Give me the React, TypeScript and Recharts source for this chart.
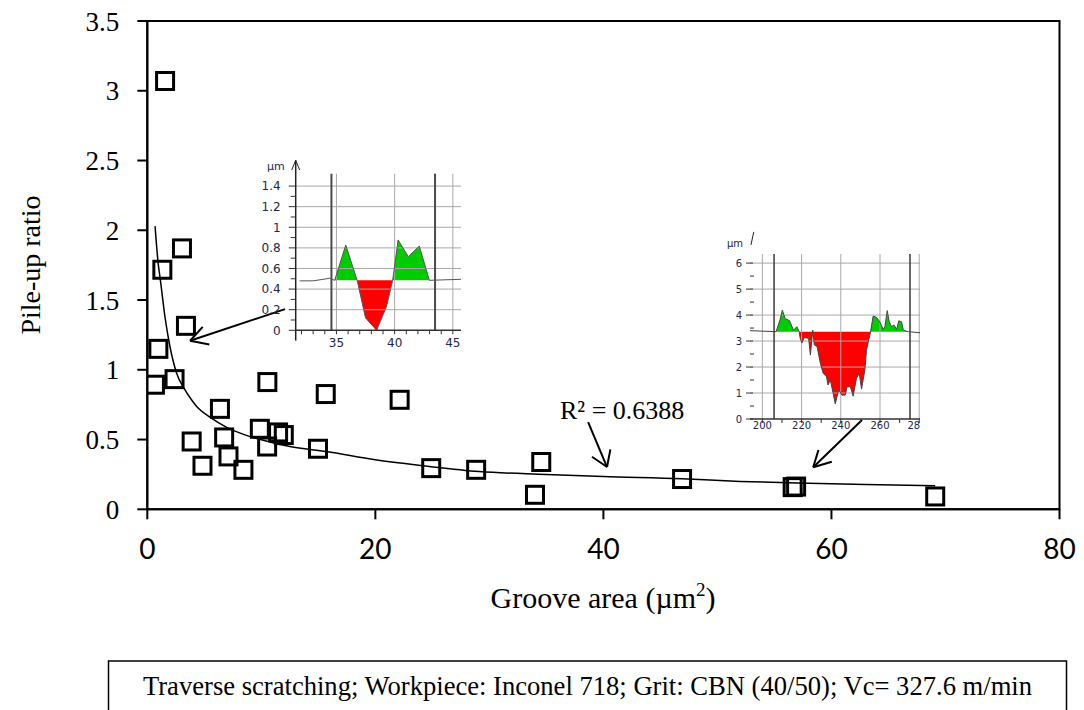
import React from 'react';
import { ComposedChart, Scatter, Line, Area, XAxis, YAxis, ReferenceLine, ReferenceArea } from 'recharts';

// ---------- main chart data ----------
const grooveArea = [1.56, 3.04, 1.32, 3.39, 0.97, 0.67, 2.39, 10.53, 15.65, 22.13, 6.37, 3.89, 6.74, 4.84, 7.12, 8.43, 9.87, 10.51, 11.47, 11.97, 14.97, 24.9, 28.84, 34.55, 34.0, 46.9, 56.6, 56.9, 69.1];
const pileUpRatio = [3.07, 1.87, 1.717, 1.315, 1.15, 0.893, 0.933, 0.912, 0.826, 0.785, 0.72, 0.486, 0.515, 0.312, 0.379, 0.283, 0.577, 0.45, 0.551, 0.532, 0.434, 0.295, 0.283, 0.339, 0.104, 0.217, 0.159, 0.163, 0.092];

const trendX = [0.68, 0.97, 1.11, 1.55, 1.99, 2.58, 3.2, 3.89, 4.33, 5.5, 7, 8.5, 10.16, 12.5, 15.7, 20, 24.75, 29.1, 35, 40, 46.9, 52, 57, 63, 69.1];
const trendY = [2.03, 1.75, 1.666, 1.38, 1.165, 0.974, 0.87, 0.783, 0.737, 0.66, 0.585, 0.535, 0.495, 0.45, 0.414, 0.355, 0.307, 0.271, 0.25, 0.235, 0.219, 0.2, 0.188, 0.178, 0.168];

const xTicks = [0, 20, 40, 60, 80];
const yTicks = [0, 0.5, 1, 1.5, 2, 2.5, 3, 3.5];

// arrows: [shaft start, tip, head arm 1, head arm 2] in data units
const arrows = [
  [[12.08, 1.435], [3.75, 1.208], [4.86, 1.308], [5.44, 1.182]],
  [[38.66, 0.625], [40.32, 0.303], [39.0, 0.377], [40.61, 0.43]],
  [[62.68, 0.64], [58.4, 0.301], [60.03, 0.341], [58.86, 0.425]],
];

const xTitle = 'Groove area (µm';
const yTitle = 'Pile-up ratio';
const r2Label = 'R² = 0.6388';
const boxText = 'Traverse scratching; Workpiece: Inconel 718; Grit: CBN (40/50); Vc= 327.6 m/min';

// ---------- inset 1 (small groove profile) ----------
const prof1X = [31.84, 33.0, 34.42, 34.85, 35.8, 36.78, 37.5, 38.45, 39.3, 39.83, 40.3, 41.17, 42.12, 42.98, 45.7];
const prof1Y = [0.48, 0.48, 0.505, 0.485, 0.828, 0.485, 0.12, 0.0, 0.23, 0.485, 0.877, 0.715, 0.818, 0.485, 0.495];
const prof1Base = 0.485;
const prof1Green = [[34.85, 36.78], [39.83, 42.98]];
const prof1Red = [[36.78, 39.83]];
const in1XTicks = [32, 33, 34, 35, 36, 37, 38, 39, 40, 41, 42, 43, 44, 45];
const in1XLabels: Record<number, string> = { 35: '35', 40: '40', 45: '45' };
const in1YTicks = [0, 0.1, 0.2, 0.3, 0.4, 0.5, 0.6, 0.7, 0.8, 0.9, 1, 1.1, 1.2, 1.3, 1.4];
const in1YLabels = [0, 0.2, 0.4, 0.6, 0.8, 1, 1.2, 1.4];
const in1GridY = [0.2, 0.4, 0.6, 0.8, 1, 1.2, 1.4];
const in1GridX = [35, 40, 45];
const in1Cursors = [34.57, 43.47];

// ---------- inset 2 (large groove profile) ----------
const prof2X = [193.7, 207.0, 209.0, 210.2, 211.6, 213.8, 215.9, 217.6, 218.8, 219.3, 220.2, 221.4, 223.6, 224.5, 225.7, 226.5, 227.9, 229.6, 231.0, 232.7, 233.5, 234.7, 236.1, 237.2, 238.9, 240.6, 242.3, 243.2, 244.9, 246.3, 248.0, 249.4, 250.6, 252.3, 253.1, 255.2, 256.5, 258.2, 259.9, 261.6, 262.5, 263.7, 264.7, 265.9, 267.1, 268.5, 269.6, 271.0, 271.9, 274.4, 280.4];
const prof2Y = [3.40, 3.36, 3.81, 4.19, 3.86, 3.79, 3.42, 3.55, 3.36, 3.10, 2.93, 3.14, 3.10, 2.46, 3.42, 2.85, 2.79, 2.14, 1.76, 1.63, 1.31, 1.50, 0.99, 0.58, 1.12, 0.92, 0.92, 1.24, 1.24, 0.88, 1.56, 1.76, 1.15, 1.90, 2.65, 3.36, 3.96, 3.91, 3.74, 3.45, 3.55, 4.17, 3.74, 3.55, 3.62, 3.45, 3.78, 3.74, 3.42, 3.36, 3.32];
const prof2Base = 3.36;
const prof2Green = [[207.0, 218.8], [255.2, 274.4]];
const prof2Red = [[218.8, 255.2]];
const in2XTicks = [200, 210, 220, 230, 240, 250, 260, 270, 280];
// the last label is cropped to "28" in the source picture
const in2XLabels: Record<number, string> = { 200: '200', 220: '220', 240: '240', 260: '260', 280: '28' };
const in2YTicks = [0, 0.5, 1, 1.5, 2, 2.5, 3, 3.5, 4, 4.5, 5, 5.5, 6];
const in2YLabels = [0, 1, 2, 3, 4, 5, 6];
const in2GridY = [1, 2, 3, 4, 5, 6];
const in2GridX = [200, 220, 240, 260, 280];
const in2Cursors = [205.97, 275.3];

const SERIF = '"Liberation Serif", "Times New Roman", serif';
const SANS = 'Lato, "Open Sans", sans-serif';
const INSET_FONT = '"DejaVu Sans", sans-serif';
const INSET_TEXT = '#23264a';

const inRanges = (x: number, ranges: number[][]) => ranges.some(([a, b]) => x >= a && x <= b);

const buildProfile = (xs: number[], ys: number[], base: number, green: number[][], red: number[][]) =>
  xs.map((x, i) => ({
    x,
    y: ys[i],
    g: inRanges(x, green) ? Math.max(ys[i], base) : null,
    r: inRanges(x, red) ? Math.min(ys[i], base) : null,
  }));

const Square = (props: any) => {
  const { cx, cy } = props;
  if (cx == null || cy == null) return null;
  return <rect x={cx - 8.5} y={cy - 8.5} width={17} height={17} fill="none" stroke="#000" strokeWidth={3} />;
};

const makeXTick = (labels: Record<number, string>, labelDy: number, fs: number, anchorEndAt?: number) => (p: any) => {
  const v = p.payload.value;
  const lab = labels[v];
  return (
    <g>
      <line x1={p.x} x2={p.x} y1={p.y} y2={p.y + 4} stroke="#333" strokeWidth={1} />
      {lab && (
        <text x={anchorEndAt === v ? p.x + 1 : p.x} y={p.y + labelDy} textAnchor={anchorEndAt === v ? 'end' : 'middle'} fontSize={fs} fontFamily={INSET_FONT} fill={INSET_TEXT}>
          {lab}
        </text>
      )}
    </g>
  );
};

const makeYTick = (labels: number[], labelDx: number, fs: number, majorFrom: number, majorTo: number, minorFrom: number, minorTo: number) => (p: any) => {
  const v = p.payload.value;
  const major = labels.includes(v);
  return (
    <g>
      <line x1={p.x + (major ? majorFrom : minorFrom)} x2={p.x + (major ? majorTo : minorTo)} y1={p.y} y2={p.y} stroke="#333" strokeWidth={1} />
      {major && (
        <text x={p.x - labelDx} y={p.y} dy="0.36em" textAnchor="end" fontSize={fs} fontFamily={INSET_FONT} fill={INSET_TEXT}>
          {v}
        </text>
      )}
    </g>
  );
};

function Inset1() {
  const data = buildProfile(prof1X, prof1Y, prof1Base, prof1Green, prof1Red);
  return (
    <div style={{ position: 'absolute', left: 240, top: 150, width: 230, height: 210 }}>
      <ComposedChart width={230} height={210} data={data} margin={{ top: 23.7, right: 9, left: 0, bottom: 9.7 }}>
        <XAxis type="number" dataKey="x" domain={[31.5, 45.7]} ticks={in1XTicks} interval={0} height={20} tickSize={0} tickMargin={0}
          tickLine={false} axisLine={{ stroke: '#333', strokeWidth: 1.5 }} tick={makeXTick(in1XLabels, 17, 12)} allowDataOverflow />
        <YAxis type="number" domain={[0, 1.52]} ticks={in1YTicks} interval={0} width={55.7} tickSize={0} tickMargin={0}
          tickLine={false} axisLine={false} tick={makeYTick(in1YLabels, 15, 12, -7, 0, -5, 0)} allowDataOverflow />
        {in1GridY.map((v) => (
          <ReferenceLine key={'gy' + v} y={v} stroke="#a8a8a8" strokeWidth={1} ifOverflow="visible" />
        ))}
        {in1GridX.map((v) => (
          <ReferenceLine key={'gx' + v} x={v} stroke="#a8a8a8" strokeWidth={1} ifOverflow="visible" />
        ))}
        <Area dataKey="g" type="linear" baseValue={prof1Base} stroke="none" fill="#00cc00" fillOpacity={1} isAnimationActive={false} connectNulls={false} />
        <Area dataKey="r" type="linear" baseValue={prof1Base} stroke="none" fill="#ff0000" fillOpacity={1} isAnimationActive={false} connectNulls={false} />
        {in1Cursors.map((v) => (
          <ReferenceLine key={'c' + v} x={v} stroke="#4a4a4a" strokeWidth={2} ifOverflow="visible" />
        ))}
        <Line dataKey="y" type="linear" stroke="#555" strokeWidth={1} dot={false} isAnimationActive={false} />
        <ReferenceLine segment={[{ x: 31.5, y: -0.1 }, { x: 31.5, y: 1.65 }]} stroke="#222" strokeWidth={1.5} ifOverflow="visible" />
        <ReferenceLine segment={[{ x: 31.16, y: 1.556 }, { x: 31.5, y: 1.65 }]} stroke="#222" strokeWidth={1} ifOverflow="visible" />
        <ReferenceLine segment={[{ x: 31.84, y: 1.556 }, { x: 31.5, y: 1.65 }]} stroke="#222" strokeWidth={1} ifOverflow="visible" />
      </ComposedChart>
    </div>
  );
}

function Inset2() {
  const data = buildProfile(prof2X, prof2Y, prof2Base, prof2Green, prof2Red);
  return (
    <div style={{ position: 'absolute', left: 700, top: 230, width: 240, height: 210 }}>
      <ComposedChart width={240} height={210} data={data} margin={{ top: 24, right: 20, left: 0, bottom: 3 }}>
        <XAxis type="number" dataKey="x" domain={[193.7, 280.4]} ticks={in2XTicks} interval={0} height={18} tickSize={0} tickMargin={0}
          tickLine={false} axisLine={{ stroke: '#333', strokeWidth: 1.5 }} tick={makeXTick(in2XLabels, 10, 10, 280)} allowDataOverflow />
        <YAxis type="number" domain={[0, 6.35]} ticks={in2YTicks} interval={0} width={50} tickSize={0} tickMargin={0}
          tickLine={false} axisLine={false} tick={makeYTick(in2YLabels, 8, 10, -4, 3, 0, 4)} allowDataOverflow />
        {in2GridY.map((v) => (
          <ReferenceLine key={'gy' + v} y={v} stroke="#a8a8a8" strokeWidth={1} ifOverflow="visible" />
        ))}
        {in2GridX.map((v) => (
          <ReferenceLine key={'gx' + v} x={v} stroke="#a8a8a8" strokeWidth={1} ifOverflow="visible" />
        ))}
        <Area dataKey="g" type="linear" baseValue={prof2Base} stroke="none" fill="#00cc00" fillOpacity={1} isAnimationActive={false} connectNulls={false} />
        <Area dataKey="r" type="linear" baseValue={prof2Base} stroke="none" fill="#ff0000" fillOpacity={1} isAnimationActive={false} connectNulls={false} />
        {in2Cursors.map((v) => (
          <ReferenceLine key={'c' + v} x={v} stroke="#3a3a3a" strokeWidth={1.5} ifOverflow="visible" />
        ))}
        <Line dataKey="y" type="linear" stroke="#444" strokeWidth={1} dot={false} isAnimationActive={false} />
        <ReferenceLine segment={[{ x: 194.2, y: 6.7 }, { x: 195.6, y: 7.2 }]} stroke="#222" strokeWidth={1} ifOverflow="visible" />
      </ComposedChart>
    </div>
  );
}

export default function App() {
  const points = grooveArea.map((x, i) => ({ x, y: pileUpRatio[i] }));
  const trend = trendX.map((x, i) => ({ x, y: trendY[i] }));
  return (
    <div style={{ position: 'absolute', left: 0, top: 0, width: 1084, height: 710, background: '#fff', overflow: 'hidden' }}>
      <div style={{ position: 'absolute', left: 0, top: 0 }}>
        <ComposedChart width={1084} height={640} margin={{ top: 21, right: 24.5, left: 87.3, bottom: 80.7 }}>
          <XAxis type="number" dataKey="x" domain={[0, 80]} ticks={xTicks} interval={0} height={50} tickSize={10} tickMargin={20}
            axisLine={{ stroke: '#000', strokeWidth: 2 }} tickLine={{ stroke: '#000', strokeWidth: 2 }}
            tick={{ fontSize: 28, fontFamily: SANS, fill: '#000' }} allowDataOverflow />
          <YAxis type="number" dataKey="y" domain={[0, 3.5]} ticks={yTicks} interval={0} width={60} tickSize={10} tickMargin={18}
            axisLine={{ stroke: '#000', strokeWidth: 2 }} tickLine={{ stroke: '#000', strokeWidth: 2 }}
            tick={{ fontSize: 27, fontFamily: SERIF, fill: '#000' }} allowDataOverflow />
          <ReferenceArea x1={0} x2={80} y1={0} y2={3.5} fill="none" stroke="#000" strokeWidth={2} ifOverflow="visible" />
          <Line data={trend} dataKey="y" type="monotone" stroke="#000" strokeWidth={1.5} dot={false} isAnimationActive={false} />
          <Scatter data={points} dataKey="y" shape={Square} isAnimationActive={false} />
          {arrows.map((a, i) => (
            <React.Fragment key={'a' + i}>
              <ReferenceLine segment={[{ x: a[0][0], y: a[0][1] }, { x: a[1][0], y: a[1][1] }]} stroke="#000" strokeWidth={2} ifOverflow="visible" />
              <ReferenceLine segment={[{ x: a[2][0], y: a[2][1] }, { x: a[1][0], y: a[1][1] }]} stroke="#000" strokeWidth={2} ifOverflow="visible" />
              <ReferenceLine segment={[{ x: a[3][0], y: a[3][1] }, { x: a[1][0], y: a[1][1] }]} stroke="#000" strokeWidth={2} ifOverflow="visible" />
            </React.Fragment>
          ))}
        </ComposedChart>
      </div>
      <Inset1 />
      <Inset2 />
      <svg width={1084} height={710} style={{ position: 'absolute', left: 0, top: 0, pointerEvents: 'none' }}>
        <text x={40} y={265} transform="rotate(-90, 40, 265)" textAnchor="middle" fontSize={28} fontFamily={SERIF} fill="#000">
          {yTitle}
        </text>
        <text x={603} y={608} textAnchor="middle" fontSize={30} fontFamily={SERIF} fill="#000">
          {xTitle}
          <tspan dy={-12} fontSize={19}>2</tspan>
          <tspan dy={12}>)</tspan>
        </text>
        <text x={560} y={419} textAnchor="start" fontSize={26} fontFamily={SERIF} fill="#000">
          {r2Label}
        </text>
        <text x={267} y={170} fontSize={11} fontFamily={INSET_FONT} fill={INSET_TEXT}>µm</text>
        <text x={727} y={247} fontSize={10} fontFamily={INSET_FONT} fill={INSET_TEXT}>µm</text>
        <rect x={108.5} y={661} width={958} height={60} fill="none" stroke="#000" strokeWidth={1.5} />
        <text x={587.5} y={695} textAnchor="middle" fontSize={26.6} fontFamily={SERIF} fill="#000">
          {boxText}
        </text>
      </svg>
    </div>
  );
}
